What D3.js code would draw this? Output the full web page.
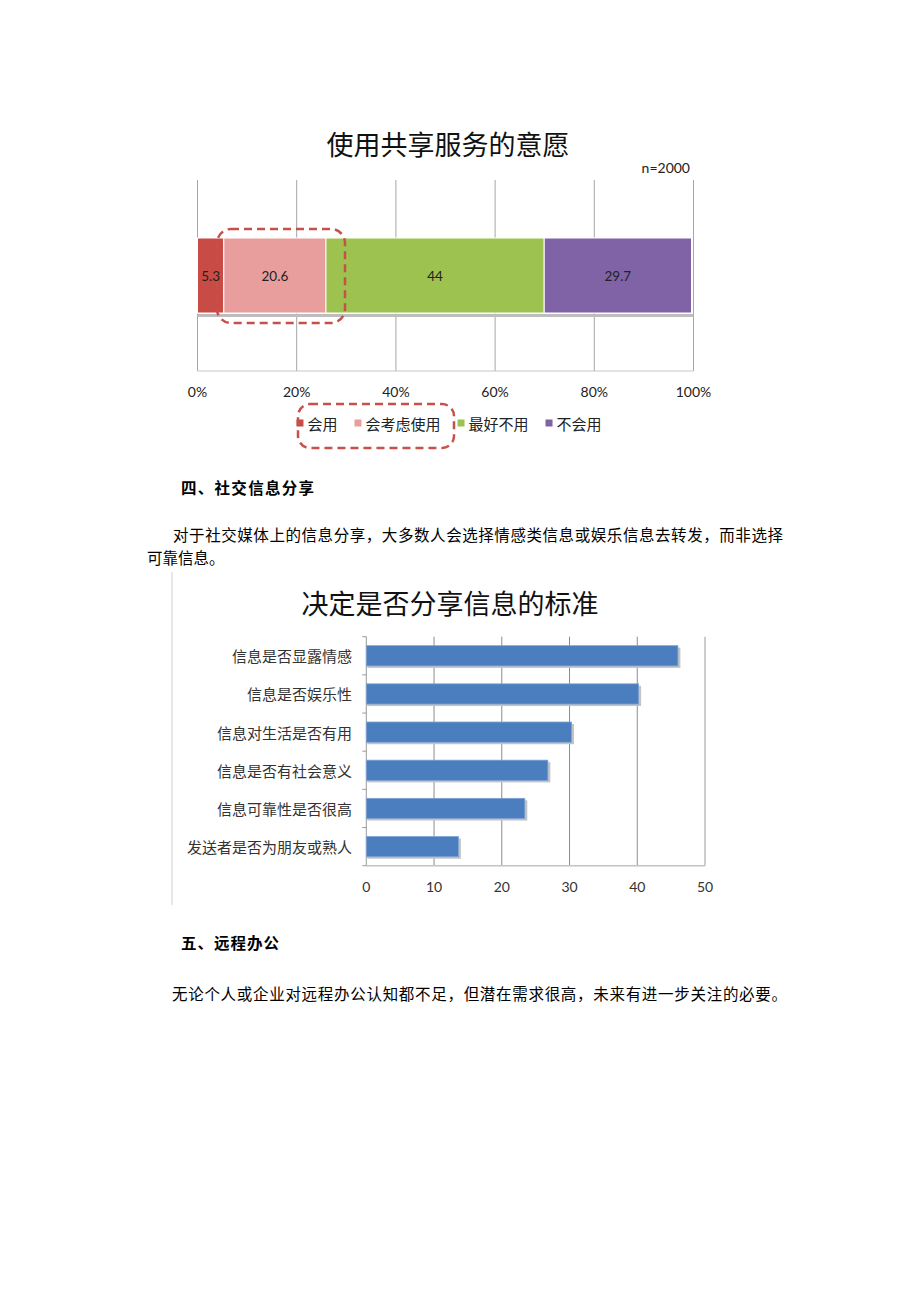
<!DOCTYPE html>
<html><head><meta charset="utf-8">
<script src="https://cdn.jsdelivr.net/npm/d3@7"></script>
<style>
html,body{margin:0;padding:0;background:#fff;}
svg{display:block;}
</style></head>
<body>
<script>
// ---- Chart 1 data ----
const chart1Title = "使用共享服务的意愿";
const chart1Note = "n=2000";
const willCategories = ["会用", "会考虑使用", "最好不用", "不会用"];
const willValues = [5.3, 20.6, 44, 29.7];
const willColors = ["#C84B45", "#E89E9D", "#9DC24F", "#7F63A6"];
const pctTicks = [0, 20, 40, 60, 80, 100];

// ---- Chart 2 data ----
const chart2Title = "决定是否分享信息的标准";
const shareCategories = ["信息是否显露情感", "信息是否娱乐性", "信息对生活是否有用", "信息是否有社会意义", "信息可靠性是否很高", "发送者是否为朋友或熟人"];
const shareValues = [46.0, 40.2, 30.3, 26.8, 23.4, 13.6];
const shareTicks = [0, 10, 20, 30, 40, 50];

// ---- Document text ----
const heading4 = "四、社交信息分享";
const para4a = "对于社交媒体上的信息分享，大多数人会选择情感类信息或娱乐信息去转发，而非选择";
const para4b = "可靠信息。";
const heading5 = "五、远程办公";
const para5 = "无论个人或企业对远程办公认知都不足，但潜在需求很高，未来有进一步关注的必要。";

const W = 920, H = 1302;
const latin = "Lato, 'Open Sans', 'Noto Sans CJK SC', sans-serif";
const cjk = "'Noto Sans CJK SC', 'Noto Sans', sans-serif";

const svg = d3.select("body").append("svg").attr("width", W).attr("height", H);
svg.append("rect").attr("width", W).attr("height", H).attr("fill", "#fff");

// ================= Chart 1 =================
const g1 = svg.append("g");
const x1 = d3.scaleLinear().domain([0, 100]).range([197.5, 693.5]);
const barTop = 238, barBot = 313, gridTop = 180, gridBot = 371;

g1.append("text").attr("x", 448).attr("y", 143).attr("text-anchor", "middle")
  .attr("dominant-baseline", "central").attr("font-family", cjk).attr("font-size", 27)
  .attr("fill", "#111").text(chart1Title);
g1.append("text").attr("x", 690).attr("y", 167).attr("text-anchor", "end")
  .attr("dominant-baseline", "central").attr("font-family", latin).attr("font-size", 14)
  .attr("fill", "#222").text(chart1Note);

// gridlines
g1.selectAll("line.grid").data(pctTicks).join("line")
  .attr("x1", d => x1(d)).attr("x2", d => x1(d))
  .attr("y1", gridTop).attr("y2", gridBot)
  .attr("stroke", "#a6a6a6").attr("stroke-width", 1);
// bottom plot border
g1.append("line").attr("x1", x1(0)).attr("x2", x1(100)).attr("y1", gridBot).attr("y2", gridBot)
  .attr("stroke", "#c8c8c8").attr("stroke-width", 1);

// stacked segments
let acc = 0;
const segs = willValues.map((v, i) => { const s = { i, v, x0: acc, x1: acc + v }; acc += v; return s; });
g1.selectAll("rect.seg").data(segs).join("rect")
  .attr("x", d => x1(d.x0)).attr("y", barTop)
  .attr("width", d => x1(d.x1) - x1(d.x0)).attr("height", barBot - barTop)
  .attr("fill", d => willColors[d.i]).attr("stroke", "#fff").attr("stroke-width", 1);
// category axis line
g1.append("line").attr("x1", x1(0)).attr("x2", x1(100)).attr("y1", barBot + 2.5).attr("y2", barBot + 2.5)
  .attr("stroke", "#bdbdbd").attr("stroke-width", 3);

// dashed highlight around bar
g1.append("rect").attr("x", 217).attr("y", 229).attr("width", 128).attr("height", 94)
  .attr("rx", 14).attr("fill", "none").attr("stroke", "#C8504A").attr("stroke-width", 2.5)
  .attr("stroke-dasharray", "8,5");

g1.selectAll("text.seglab").data(segs).join("text")
  .attr("x", d => (x1(d.x0) + x1(d.x1)) / 2).attr("y", (barTop + barBot) / 2)
  .attr("text-anchor", "middle").attr("dominant-baseline", "central")
  .attr("font-family", latin).attr("font-size", 13.5).attr("fill", "#222")
  .text(d => d.v);

// tick labels
g1.selectAll("text.tick").data(pctTicks).join("text")
  .attr("x", d => x1(d)).attr("y", 391).attr("text-anchor", "middle")
  .attr("dominant-baseline", "central").attr("font-family", latin).attr("font-size", 14)
  .attr("fill", "#222").text(d => d + "%");

// legend
const legY = 423;
const legG = g1.append("g");
let lx = 0;
willCategories.forEach((c, i) => {
  const it = legG.append("g");
  it.append("rect").attr("x", 0).attr("y", legY - 3.5).attr("width", 7).attr("height", 7).attr("fill", willColors[i]);
  const t = it.append("text").attr("x", 11).attr("y", legY).attr("dominant-baseline", "central")
    .attr("font-family", cjk).attr("font-size", 15).attr("fill", "#222").text(c);
  const w = 11 + t.node().getComputedTextLength();
  it.attr("transform", `translate(${lx},0)`);
  lx += w + 17;
});
const legW = lx - 17;
legG.attr("transform", `translate(${449 - legW / 2},0)`);
g1.append("rect").attr("x", 298).attr("y", 404).attr("width", 156).attr("height", 44)
  .attr("rx", 12).attr("fill", "none").attr("stroke", "#C8504A").attr("stroke-width", 2.5)
  .attr("stroke-dasharray", "8,5");

// ================= Text section 4 =================
svg.append("text").attr("x", 181).attr("y", 487).attr("dominant-baseline", "central")
  .attr("font-family", cjk).attr("font-size", 15.5).attr("font-weight", 700).attr("fill", "#000")
  .attr("textLength", 133).attr("lengthAdjust", "spacing").text(heading4);
svg.append("text").attr("x", 173).attr("y", 534).attr("dominant-baseline", "central")
  .attr("font-family", cjk).attr("font-size", 15.5).attr("fill", "#000")
  .attr("textLength", 610).attr("lengthAdjust", "spacing").text(para4a);
svg.append("text").attr("x", 147).attr("y", 557).attr("dominant-baseline", "central")
  .attr("font-family", cjk).attr("font-size", 15.5).attr("fill", "#000").text(para4b);

// ================= Chart 2 =================
const g2 = svg.append("g");
g2.append("line").attr("x1", 172).attr("x2", 172).attr("y1", 572).attr("y2", 905)
  .attr("stroke", "#cfcfcf").attr("stroke-width", 1);
g2.append("text").attr("x", 450).attr("y", 602).attr("text-anchor", "middle")
  .attr("dominant-baseline", "central").attr("font-family", cjk).attr("font-size", 27)
  .attr("fill", "#111").text(chart2Title);

const x2 = d3.scaleLinear().domain([0, 50]).range([366.3, 705]);
const pTop = 636.7, pBot = 865.7;
const y2 = d3.scaleBand().domain(shareCategories).range([pTop, pBot]).paddingInner(0.47).paddingOuter(0.235);

// gridlines
g2.selectAll("line.grid").data(shareTicks.slice(1, -1)).join("line")
  .attr("x1", d => x2(d)).attr("x2", d => x2(d)).attr("y1", pTop).attr("y2", pBot)
  .attr("stroke", "#8c8c8c").attr("stroke-width", 1);
// right & bottom border
g2.append("line").attr("x1", x2(50)).attr("x2", x2(50)).attr("y1", pTop).attr("y2", pBot)
  .attr("stroke", "#bdbdbd").attr("stroke-width", 1.5);
g2.append("line").attr("x1", x2(0)).attr("x2", x2(50)).attr("y1", pBot).attr("y2", pBot)
  .attr("stroke", "#c4c4c4").attr("stroke-width", 1.5);
// left axis + category ticks
g2.append("line").attr("x1", x2(0)).attr("x2", x2(0)).attr("y1", pTop).attr("y2", pBot)
  .attr("stroke", "#9a9a9a").attr("stroke-width", 1);
const step = y2.step();
g2.selectAll("line.ctick").data(d3.range(shareCategories.length + 1)).join("line")
  .attr("x1", x2(0) - 4).attr("x2", x2(0)).attr("y1", d => pTop + d * step).attr("y2", d => pTop + d * step)
  .attr("stroke", "#9a9a9a").attr("stroke-width", 1);

// bar shadows
g2.selectAll("rect.shadow").data(shareValues).join("rect")
  .attr("x", x2(0) + 1).attr("y", (d, i) => y2(shareCategories[i]) + 2)
  .attr("width", d => x2(d) - x2(0) + 1.5).attr("height", y2.bandwidth())
  .attr("fill", "#c4c4c4");
// bars
g2.selectAll("rect.bar").data(shareValues).join("rect")
  .attr("x", x2(0)).attr("y", (d, i) => y2(shareCategories[i]))
  .attr("width", d => x2(d) - x2(0)).attr("height", y2.bandwidth())
  .attr("fill", "#4A7EBF").attr("stroke", "#7fa3d3").attr("stroke-width", 0.8);

// category labels
g2.selectAll("text.cat").data(shareCategories).join("text")
  .attr("x", 352).attr("y", d => y2(d) + y2.bandwidth() / 2)
  .attr("text-anchor", "end").attr("dominant-baseline", "central")
  .attr("font-family", cjk).attr("font-size", 15).attr("fill", "#333").text(d => d);
// value axis labels
g2.selectAll("text.tick").data(shareTicks).join("text")
  .attr("x", d => x2(d)).attr("y", 886).attr("text-anchor", "middle")
  .attr("dominant-baseline", "central").attr("font-family", latin).attr("font-size", 14)
  .attr("fill", "#333").text(d => d);

// ================= Text section 5 =================
svg.append("text").attr("x", 181).attr("y", 942).attr("dominant-baseline", "central")
  .attr("font-family", cjk).attr("font-size", 15.5).attr("font-weight", 700).attr("fill", "#000")
  .attr("textLength", 98).attr("lengthAdjust", "spacing").text(heading5);
svg.append("text").attr("x", 172).attr("y", 993).attr("dominant-baseline", "central")
  .attr("font-family", cjk).attr("font-size", 15.5).attr("fill", "#000")
  .attr("textLength", 615).attr("lengthAdjust", "spacing").text(para5);
</script>
</body></html>
